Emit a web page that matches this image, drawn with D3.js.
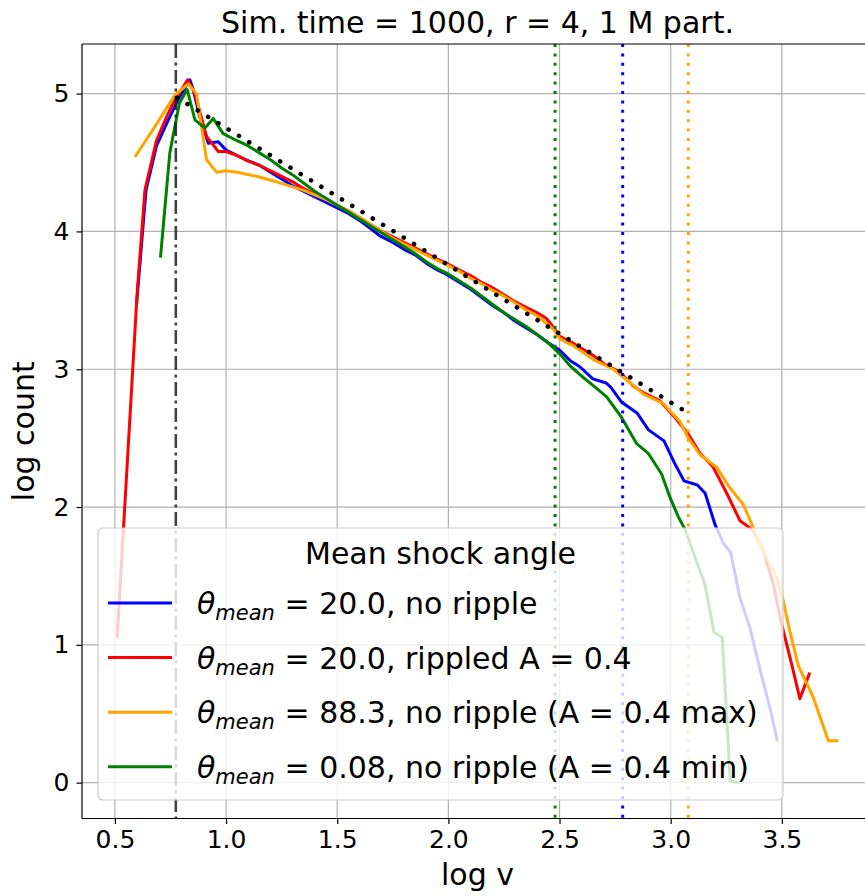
<!DOCTYPE html>
<html>
<head>
<meta charset="utf-8">
<script src="https://cdnjs.cloudflare.com/ajax/libs/d3/7.8.5/d3.min.js"></script>
<style>
  body { margin: 0; background: #fff; }
  text { font-family: "DejaVu Sans", sans-serif; fill: #000; }
</style>
</head>
<body>
<svg class="viz"></svg>
<script>
var width = 865,
  height = 896;

// axes box (right spine falls just outside the picture)
var ax_left = 82, ax_right = 873, ax_top = 44, ax_bottom = 818.5;

// ---- data ----
var x_ticks = [0.5, 1.0, 1.5, 2.0, 2.5, 3.0, 3.5];
var y_ticks = [0, 1, 2, 3, 4, 5];

var blue_x = [0.598, 0.64, 0.687, 0.732, 0.785, 0.837, 0.852, 0.882, 0.92, 0.965, 1.0, 1.05, 1.09, 1.15, 1.2, 1.25, 1.3, 1.35, 1.4, 1.45, 1.5, 1.55, 1.6, 1.65, 1.69, 1.75, 1.8, 1.85, 1.9, 1.95, 1.99, 2.05, 2.1, 2.15, 2.2, 2.25, 2.29, 2.35, 2.4, 2.45, 2.5, 2.55, 2.59, 2.65, 2.71, 2.73, 2.78, 2.85, 2.9, 2.97, 3.02, 3.06, 3.12, 3.155, 3.2, 3.236, 3.27, 3.31, 3.357, 3.41, 3.45, 3.48];
var blue_y = [3.48, 4.3, 4.62, 4.78, 4.96, 5.1, 5.03, 4.83, 4.64, 4.65, 4.59, 4.55, 4.52, 4.48, 4.43, 4.38, 4.33, 4.29, 4.25, 4.21, 4.17, 4.13, 4.08, 4.02, 3.97, 3.92, 3.87, 3.83, 3.77, 3.72, 3.69, 3.63, 3.58, 3.52, 3.46, 3.41, 3.36, 3.3, 3.25, 3.19, 3.14, 3.06, 3.02, 2.93, 2.9, 2.87, 2.76, 2.68, 2.56, 2.48, 2.31, 2.19, 2.16, 2.1, 1.87, 1.74, 1.67, 1.35, 1.12, 0.77, 0.52, 0.3];

var red_x = [0.51, 0.555, 0.6, 0.635, 0.687, 0.735, 0.762, 0.827, 0.86, 0.912, 0.965, 1.0, 1.05, 1.1, 1.15, 1.2, 1.25, 1.3, 1.35, 1.4, 1.45, 1.5, 1.55, 1.6, 1.65, 1.69, 1.75, 1.8, 1.85, 1.9, 1.95, 1.99, 2.05, 2.1, 2.15, 2.19, 2.25, 2.3, 2.35, 2.4, 2.44, 2.47, 2.5, 2.56, 2.6, 2.652, 2.7, 2.772, 2.83, 2.877, 2.952, 3.019, 3.079, 3.132, 3.191, 3.252, 3.312, 3.372, 3.417, 3.462, 3.499, 3.544, 3.581, 3.626];
var red_y = [1.05, 2.3, 3.55, 4.3, 4.66, 4.84, 4.93, 5.1, 5.0, 4.69, 4.58, 4.58, 4.55, 4.51, 4.48, 4.44, 4.4, 4.36, 4.31, 4.27, 4.23, 4.19, 4.15, 4.1, 4.05, 4.01, 3.96, 3.92, 3.88, 3.84, 3.8, 3.77, 3.72, 3.68, 3.63, 3.6, 3.54, 3.49, 3.45, 3.41, 3.37, 3.31, 3.24, 3.19, 3.15, 3.1, 3.04, 2.98, 2.88, 2.83, 2.77, 2.65, 2.53, 2.39, 2.29, 2.1, 1.9, 1.83, 1.68, 1.44, 1.15, 0.86, 0.61, 0.8];

var orange_x = [0.59, 0.68, 0.77, 0.83, 0.867, 0.912, 0.957, 1.0, 1.05, 1.137, 1.227, 1.347, 1.45, 1.5, 1.55, 1.6, 1.65, 1.7, 1.75, 1.8, 1.85, 1.9, 1.95, 1.99, 2.05, 2.1, 2.15, 2.19, 2.25, 2.3, 2.35, 2.397, 2.472, 2.502, 2.562, 2.652, 2.742, 2.82, 2.877, 2.967, 3.042, 3.079, 3.132, 3.206, 3.266, 3.326, 3.364, 3.401, 3.476, 3.506, 3.536, 3.574, 3.641, 3.709, 3.754];
var orange_y = [4.54, 4.76, 4.99, 5.07, 5.0, 4.52, 4.43, 4.44, 4.43, 4.4, 4.36, 4.3, 4.23, 4.19, 4.15, 4.1, 4.05, 4.0, 3.95, 3.91, 3.87, 3.83, 3.79, 3.76, 3.71, 3.66, 3.62, 3.58, 3.53, 3.48, 3.43, 3.39, 3.29, 3.22, 3.17, 3.07, 3.0, 2.9, 2.82, 2.75, 2.62, 2.5, 2.38, 2.29, 2.14, 2.02, 1.88, 1.73, 1.49, 1.32, 1.1, 0.85, 0.62, 0.305, 0.305];

var green_x = [0.705, 0.747, 0.79, 0.825, 0.86, 0.905, 0.942, 0.987, 1.047, 1.1, 1.15, 1.2, 1.25, 1.3, 1.35, 1.4, 1.45, 1.5, 1.55, 1.6, 1.65, 1.69, 1.75, 1.8, 1.85, 1.9, 1.95, 1.99, 2.05, 2.1, 2.15, 2.2, 2.25, 2.29, 2.35, 2.4, 2.45, 2.502, 2.55, 2.607, 2.66, 2.712, 2.779, 2.847, 2.899, 2.959, 2.997, 3.034, 3.064, 3.109, 3.154, 3.195, 3.232, 3.268, 3.312];
var green_y = [3.81, 4.57, 4.93, 5.03, 4.81, 4.75, 4.82, 4.71, 4.66, 4.62, 4.57, 4.52, 4.46, 4.41, 4.35, 4.29, 4.24, 4.19, 4.14, 4.09, 4.04, 4.0, 3.94, 3.89, 3.84, 3.78, 3.73, 3.7, 3.64, 3.59, 3.53, 3.47, 3.41, 3.37, 3.31, 3.25, 3.19, 3.11, 3.02, 2.94, 2.87, 2.8, 2.65, 2.46, 2.39, 2.24, 2.07, 1.93, 1.84, 1.64, 1.44, 1.09, 1.055, 0.01, 0.0];

// power-law guide
var fit_x = [0.78, 3.05];
var fit_y = [4.97, 2.71];

// vertical markers (injection and cut-off velocities)
var vline_x = [0.774, 2.48, 2.784, 3.079];

var series_names = ["20.0, no ripple", "20.0, rippled A = 0.4", "88.3, no ripple (A = 0.4 max)", "0.08, no ripple (A = 0.4 min)"];
var series_colors = ["#0000ff", "#ff0000", "#ffa500", "#008000"];

var series = [
  { xs: blue_x, ys: blue_y },
  { xs: red_x, ys: red_y },
  { xs: orange_x, ys: orange_y },
  { xs: green_x, ys: green_y }
];

// ---- drawing ----
var svg = d3.select(".viz")
  .attr("width", width)
  .attr("height", height);

svg.append("rect").attr("width", width).attr("height", height).attr("fill", "#fff");

var x = d3.scaleLinear().domain([0.352, 3.91]).range([ax_left, ax_right]);
var y = d3.scaleLinear().domain([-0.26, 5.36]).range([ax_bottom, ax_top]);

svg.append("clipPath").attr("id", "plotclip")
  .append("rect")
  .attr("x", ax_left).attr("y", ax_top)
  .attr("width", ax_right - ax_left).attr("height", ax_bottom - ax_top);

// grid
var grid = svg.append("g").attr("stroke", "#b0b0b0").attr("stroke-width", 1.2);
grid.selectAll(".gx").data(x_ticks).enter().append("line")
  .attr("x1", d => x(d)).attr("x2", d => x(d))
  .attr("y1", ax_top).attr("y2", ax_bottom);
grid.selectAll(".gy").data(y_ticks).enter().append("line")
  .attr("x1", ax_left).attr("x2", ax_right)
  .attr("y1", d => y(d)).attr("y2", d => y(d));

var plot = svg.append("g").attr("clip-path", "url(#plotclip)");

var line = d3.line()
  .x(d => x(d[0]))
  .y(d => y(d[1]));

series.forEach(function(s, i) {
  var pts = s.xs.map((v, j) => [v, s.ys[j]]);
  plot.append("path")
    .datum(pts)
    .attr("d", line)
    .attr("fill", "none")
    .attr("stroke", series_colors[i])
    .attr("stroke-width", 3)
    .attr("stroke-linejoin", "round");
});

// vertical markers: first is dash-dot black, rest dotted in series colours
var vline_style = [
  { color: "#222", dash: "14,4.5,3,4.5", w: 2.6, op: 0.85 },
  { color: "#008000", dash: "3,6.4", w: 3, op: 1 },
  { color: "#0000ff", dash: "3,6.4", w: 3, op: 1 },
  { color: "#ffa500", dash: "3,6.4", w: 3, op: 1 }
];
plot.selectAll(".vl").data(vline_x).enter().append("line")
  .attr("x1", d => x(d)).attr("x2", d => x(d))
  .attr("y1", ax_top).attr("y2", ax_bottom)
  .attr("stroke", (d, i) => vline_style[i].color)
  .attr("stroke-width", (d, i) => vline_style[i].w)
  .attr("stroke-dasharray", (d, i) => vline_style[i].dash)
  .attr("opacity", (d, i) => vline_style[i].op);

plot.append("path")
  .datum(fit_x.map((v, j) => [v, fit_y[j]]))
  .attr("d", line)
  .attr("fill", "none")
  .attr("stroke", "#000")
  .attr("stroke-width", 4.5)
  .attr("stroke-linecap", "round")
  .attr("stroke-dasharray", "0.1,12");

// axes
var xAxis = svg.append("g")
  .attr("transform", "translate(0," + ax_bottom + ")")
  .call(d3.axisBottom(x).tickValues(x_ticks).tickFormat(d3.format(".1f")).tickSizeOuter(0).tickSize(5.5).tickPadding(6));
var yAxis = svg.append("g")
  .attr("transform", "translate(" + ax_left + ",0)")
  .call(d3.axisLeft(y).tickValues(y_ticks).tickFormat(d3.format("d")).tickSizeOuter(0).tickSize(5.5).tickPadding(7));
[xAxis, yAxis].forEach(function(a) {
  a.attr("font-size", 25).attr("font-family", "DejaVu Sans");
  a.select(".domain").remove();
  a.selectAll("line").attr("stroke", "#000").attr("stroke-width", 1.2);
  a.selectAll("text").attr("fill", "#000");
});

// spines
var spines = svg.append("g").attr("stroke", "#000").attr("stroke-width", 1.2).attr("fill", "none");
spines.append("line").attr("x1", ax_left).attr("x2", ax_left).attr("y1", ax_top).attr("y2", ax_bottom);
spines.append("line").attr("x1", ax_left).attr("x2", ax_right).attr("y1", ax_bottom).attr("y2", ax_bottom);
spines.append("line").attr("x1", ax_left).attr("x2", ax_right).attr("y1", ax_top).attr("y2", ax_top);
spines.append("line").attr("x1", ax_right).attr("x2", ax_right).attr("y1", ax_top).attr("y2", ax_bottom);

// titles
svg.append("text")
  .attr("x", (ax_left + ax_right) / 2).attr("y", 33)
  .attr("text-anchor", "middle").attr("font-size", 30)
  .text("Sim. time = 1000, r = 4, 1 M part.");
svg.append("text")
  .attr("x", (ax_left + ax_right) / 2).attr("y", 885)
  .attr("text-anchor", "middle").attr("font-size", 30)
  .text("log v");
svg.append("text")
  .attr("transform", "translate(34," + ((ax_top + ax_bottom) / 2) + ") rotate(-90)")
  .attr("text-anchor", "middle").attr("font-size", 30)
  .text("log count");

// legend
var lg = svg.append("g");
lg.append("rect")
  .attr("x", 98).attr("y", 528)
  .attr("width", 685).attr("height", 272)
  .attr("rx", 5)
  .attr("fill", "#fff").attr("fill-opacity", 0.8)
  .attr("stroke", "#cccccc").attr("stroke-width", 1.2);
lg.append("text")
  .attr("x", 440.5).attr("y", 564)
  .attr("text-anchor", "middle").attr("font-size", 30)
  .text("Mean shock angle");

var rows = lg.selectAll(".row").data(series_names).enter().append("g")
  .attr("transform", (d, i) => "translate(0," + (603 + i * 54.6) + ")");
rows.append("line")
  .attr("x1", 108).attr("x2", 172)
  .attr("stroke", (d, i) => series_colors[i])
  .attr("stroke-width", 3);
var lt = rows.append("text")
  .attr("x", 197).attr("y", 11)
  .attr("font-size", 30);
lt.append("tspan").attr("font-style", "italic").text("\u03b8");
lt.append("tspan").attr("font-style", "italic").attr("font-size", 21).attr("dy", 6).text("mean");
lt.append("tspan").attr("dy", -6).text(d => " = " + d);
</script>
</body>
</html>
